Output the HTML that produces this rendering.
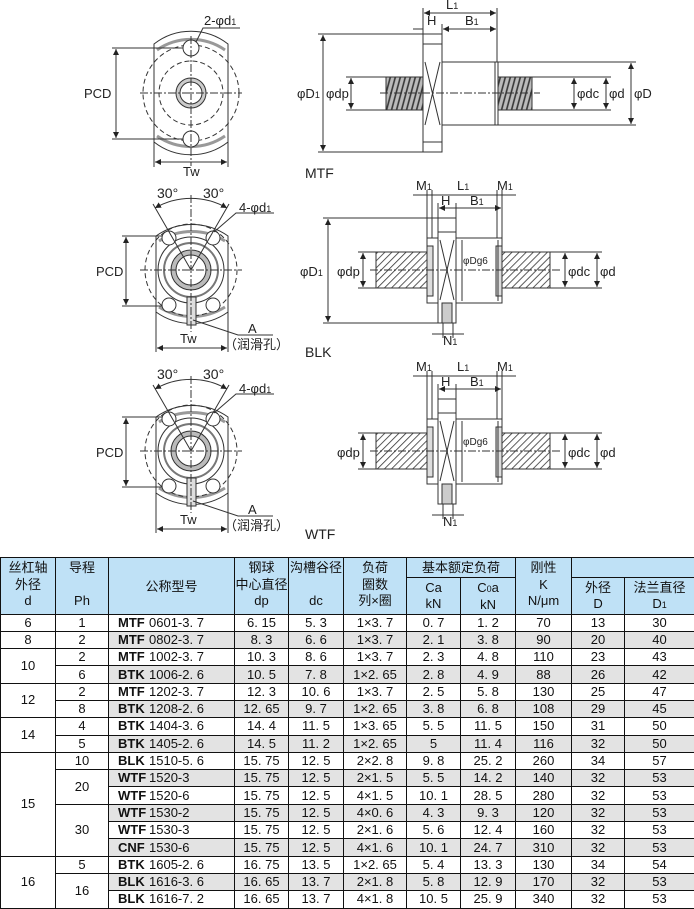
<!DOCTYPE html>
<html><head><meta charset="utf-8">
<style>
html,body{margin:0;padding:0;background:#fff;}
body{width:694px;height:907px;position:relative;overflow:hidden;font-family:"Liberation Sans","Noto Sans CJK SC",sans-serif;}
svg{position:absolute;left:0;top:0;}
svg text{font-family:"Liberation Sans","Noto Sans CJK SC",sans-serif;fill:#222;}
table{position:absolute;left:0;top:557px;border-collapse:collapse;table-layout:fixed;width:694px;}
td{border:1px solid #111;padding:0;text-align:center;font-size:13px;color:#111;overflow:hidden;white-space:nowrap;}
thead td{background:#bfe1f6;font-size:13px;line-height:16.5px;vertical-align:top;padding-top:2px;}
tbody td{height:16.3px;line-height:16px;}
tbody tr:nth-child(even) td.g{background:#e3e3e3;}
td.m{text-align:left;padding-left:9px;}
td.m b{font-weight:bold;display:inline-block;width:31px;}
</style></head><body>
<svg width="694" height="557" viewBox="0 0 694 557">
<defs>
<pattern id="h" width="5" height="5" patternUnits="userSpaceOnUse" patternTransform="rotate(45)"><rect width="5" height="5" fill="#fff"/><line x1="0" y1="0" x2="0" y2="5" stroke="#333" stroke-width="1.6"/></pattern>
<pattern id="c" width="5" height="40" patternUnits="userSpaceOnUse" patternTransform="skewX(-15)"><rect width="5" height="40" fill="#bbb"/><line x1="1" y1="0" x2="1" y2="40" stroke="#333" stroke-width="1.6"/></pattern>
<marker id="a" viewBox="0 0 6 6" refX="6" refY="3" markerWidth="6" markerHeight="6" orient="auto-start-reverse"><path d="M0,0L6,3L0,6z" fill="#222"/></marker>
</defs>
<g stroke="#333" fill="none" stroke-width="1">
<path d="M154,44 A60,60 0 0 1 228,44 L228,142 A60,60 0 0 1 154,142 Z" fill="#fff"/>
<path d="M157,50 A60,60 0 0 1 225,50" stroke="#999" stroke-width="3"/>
<path d="M157,136 A60,60 0 0 0 225,136" stroke="#999" stroke-width="3"/>
<circle cx="191" cy="93" r="48" stroke-dasharray="5,3"/>
<circle cx="191" cy="93" r="32" stroke-dasharray="5,3"/>
<circle cx="191" cy="93" r="15" fill="#ccc"/>
<circle cx="191" cy="93" r="11" fill="#fff"/>
<circle cx="191" cy="48" r="8" fill="#fff"/>
<circle cx="191" cy="139" r="8" fill="#fff"/>
<line x1="140" y1="93" x2="242" y2="93" stroke-dasharray="8,2,2,2"/>
<line x1="191" y1="36" x2="191" y2="166" stroke-dasharray="8,2,2,2"/>
<line x1="112" y1="48" x2="183" y2="48"/><line x1="112" y1="139" x2="183" y2="139"/>
<line x1="116" y1="49" x2="116" y2="138" marker-start="url(#a)" marker-end="url(#a)"/>
<line x1="154" y1="142" x2="154" y2="167"/><line x1="228" y1="142" x2="228" y2="167"/>
<line x1="155" y1="162" x2="227" y2="162" marker-start="url(#a)" marker-end="url(#a)"/>
<polyline points="196,42 203,28 240,28"/>
<rect x="386" y="77" width="37" height="33" fill="url(#c)"/>
<rect x="498" y="77" width="34" height="33" fill="url(#c)"/>
<rect x="423" y="34" width="19" height="118" fill="#fff"/>
<line x1="423" y1="44" x2="442" y2="44"/><line x1="423" y1="142" x2="442" y2="142"/>
<polyline points="425,62 440,125"/><polyline points="440,62 425,125"/>
<rect x="442" y="62" width="53" height="63" fill="#fff"/>
<rect x="495" y="62" width="3" height="63" fill="#fff"/>
<line x1="380" y1="93" x2="540" y2="93" stroke-dasharray="8,2,2,2"/>
<line x1="318" y1="34" x2="423" y2="34"/><line x1="318" y1="152" x2="423" y2="152"/>
<line x1="323" y1="35" x2="323" y2="151" marker-start="url(#a)" marker-end="url(#a)"/>
<line x1="346" y1="77" x2="386" y2="77"/><line x1="346" y1="110" x2="386" y2="110"/>
<line x1="351" y1="78" x2="351" y2="109" marker-start="url(#a)" marker-end="url(#a)"/>
<line x1="532" y1="77" x2="611" y2="77"/><line x1="532" y1="110" x2="611" y2="110"/>
<line x1="574" y1="78" x2="574" y2="109" marker-start="url(#a)" marker-end="url(#a)"/>
<line x1="606" y1="78" x2="606" y2="109" marker-start="url(#a)" marker-end="url(#a)"/>
<line x1="498" y1="62" x2="636" y2="62"/><line x1="498" y1="125" x2="636" y2="125"/>
<line x1="631" y1="63" x2="631" y2="124" marker-start="url(#a)" marker-end="url(#a)"/>
<line x1="423" y1="8" x2="423" y2="34"/><line x1="497" y1="8" x2="497" y2="62"/>
<line x1="442" y1="24" x2="442" y2="34"/>
<line x1="424" y1="13" x2="496" y2="13" marker-start="url(#a)" marker-end="url(#a)"/>
<line x1="413" y1="29" x2="423" y2="29"/><line x1="443" y1="29" x2="496" y2="29" marker-start="url(#a)" marker-end="url(#a)"/>

<g id="fr">
<path d="M156,236 A62,62 0 0 1 228,236 L228,312 A62,62 0 0 1 156,312 Z" fill="#fff"/>
<path d="M159,241 A62,62 0 0 1 225,241" stroke="#999" stroke-width="3"/>
<path d="M159,307 A62,62 0 0 0 225,307" stroke="#999" stroke-width="3"/>
<circle cx="191" cy="270" r="46" stroke-dasharray="5,3"/>
<circle cx="191" cy="270" r="33"/>
<circle cx="191" cy="270" r="27" stroke="#777" stroke-width="2"/>
<circle cx="191" cy="270" r="20" fill="#bbb"/>
<circle cx="191" cy="270" r="15" fill="#fff"/>
<circle cx="169" cy="238" r="7" fill="#fff"/><circle cx="213" cy="238" r="7" fill="#fff"/>
<circle cx="169" cy="305" r="7" fill="#fff"/><circle cx="213" cy="305" r="7" fill="#fff"/>
<rect x="187" y="297" width="9" height="28" fill="#ddd"/>
<line x1="140" y1="270" x2="242" y2="270" stroke-dasharray="8,2,2,2"/>
<line x1="191" y1="195" x2="191" y2="332" stroke-dasharray="8,2,2,2"/>
<line x1="191" y1="270" x2="153" y2="204"/><line x1="191" y1="270" x2="229" y2="204"/>
<path d="M155,208 A72,72 0 0 1 227,208" marker-start="url(#a)" marker-end="url(#a)"/>
<line x1="122" y1="236" x2="162" y2="236"/><line x1="122" y1="306" x2="162" y2="306"/>
<line x1="126" y1="237" x2="126" y2="305" marker-start="url(#a)" marker-end="url(#a)"/>
<line x1="156" y1="312" x2="156" y2="352"/><line x1="228" y1="312" x2="228" y2="352"/>
<line x1="157" y1="348" x2="227" y2="348" marker-start="url(#a)" marker-end="url(#a)"/>
<polyline points="214,232 236,213 274,213"/>
<polyline points="193,320 238,335 273,335"/>
</g>
<use href="#fr" y="181"/>
<g id="sd">
<rect x="376" y="252" width="51" height="36" fill="url(#h)"/>
<rect x="502" y="252" width="48" height="36" fill="url(#h)"/>
<rect x="427" y="238" width="75" height="65" fill="#fff"/>
<rect x="427" y="246" width="6" height="50" fill="#ddd"/>
<rect x="496" y="246" width="6" height="50" fill="#ddd"/>
<line x1="462" y1="240" x2="462" y2="301"/><line x1="498" y1="240" x2="498" y2="301"/>
<rect x="438" y="218" width="18" height="105" fill="#fff"/>
<line x1="438" y1="232" x2="456" y2="232"/>
<polyline points="440,240 454,300"/><polyline points="454,240 440,300"/>
<rect x="442" y="303" width="10" height="20" fill="#ccc"/>
<line x1="370" y1="270" x2="560" y2="270" stroke-dasharray="8,2,2,2"/>
<line x1="358" y1="252" x2="376" y2="252"/><line x1="358" y1="288" x2="376" y2="288"/>
<line x1="363" y1="253" x2="363" y2="287" marker-start="url(#a)" marker-end="url(#a)"/>
<line x1="550" y1="252" x2="602" y2="252"/><line x1="550" y1="288" x2="602" y2="288"/>
<line x1="565" y1="253" x2="565" y2="287" marker-start="url(#a)" marker-end="url(#a)"/>
<line x1="597" y1="253" x2="597" y2="287" marker-start="url(#a)" marker-end="url(#a)"/>
<line x1="427" y1="190" x2="427" y2="238"/><line x1="432" y1="190" x2="432" y2="238"/>
<line x1="497" y1="190" x2="497" y2="238"/><line x1="502" y1="190" x2="502" y2="238"/>
<line x1="413" y1="195" x2="516" y2="195"/>
<line x1="438" y1="203" x2="438" y2="218"/><line x1="456" y1="203" x2="456" y2="218"/>
<line x1="439" y1="208" x2="501" y2="208" marker-start="url(#a)" marker-end="url(#a)"/>
<line x1="443" y1="323" x2="443" y2="338"/><line x1="453" y1="323" x2="453" y2="338"/>
<line x1="432" y1="334" x2="464" y2="334"/>
</g>
<use href="#sd" y="181"/>
<line x1="323" y1="218" x2="438" y2="218"/><line x1="323" y1="323" x2="438" y2="323"/>
<line x1="328" y1="219" x2="328" y2="322" marker-start="url(#a)" marker-end="url(#a)"/>
</g>
<g font-size="13">
<text x="84" y="98">PCD</text><text x="183" y="176">Tw</text>
<text x="204" y="25">2-φd<tspan font-size="9">1</tspan></text>
<text x="297" y="98">φD<tspan font-size="9">1</tspan></text>
<text x="326" y="98">φdp</text>
<text x="577" y="98">φdc</text><text x="609" y="98">φd</text><text x="634" y="98">φD</text>
<text x="446" y="9">L<tspan font-size="9">1</tspan></text>
<text x="427" y="25">H</text><text x="465" y="25">B<tspan font-size="9">1</tspan></text>
<text x="305" y="178" font-size="14">MTF</text>

<text x="96" y="276">PCD</text><text x="180" y="343">Tw</text>
<text x="157" y="198" font-size="14">30°</text><text x="203" y="198" font-size="14">30°</text>
<text x="239" y="212">4-φd<tspan font-size="9">1</tspan></text>
<text x="248" y="333">A</text><text x="224" y="349">（润滑孔）</text>
<text x="305" y="357" font-size="14">BLK</text>
<text x="300" y="276">φD<tspan font-size="9">1</tspan></text>
<text x="337" y="276">φdp</text>
<text x="568" y="276">φdc</text><text x="600" y="276">φd</text>
<text x="416" y="190">M<tspan font-size="9">1</tspan></text><text x="457" y="190">L<tspan font-size="9">1</tspan></text><text x="497" y="190">M<tspan font-size="9">1</tspan></text>
<text x="441" y="205">H</text><text x="470" y="205">B<tspan font-size="9">1</tspan></text>
<text x="463" y="264" font-size="10">φDg6</text>
<text x="443" y="345">N<tspan font-size="9">1</tspan></text>

<text x="96" y="457">PCD</text><text x="180" y="524">Tw</text>
<text x="157" y="379" font-size="14">30°</text><text x="203" y="379" font-size="14">30°</text>
<text x="239" y="393">4-φd<tspan font-size="9">1</tspan></text>
<text x="248" y="514">A</text><text x="224" y="530">（润滑孔）</text>
<text x="305" y="539" font-size="14">WTF</text>
<text x="337" y="457">φdp</text>
<text x="568" y="457">φdc</text><text x="600" y="457">φd</text>
<text x="416" y="371">M<tspan font-size="9">1</tspan></text><text x="457" y="371">L<tspan font-size="9">1</tspan></text><text x="497" y="371">M<tspan font-size="9">1</tspan></text>
<text x="441" y="386">H</text><text x="470" y="386">B<tspan font-size="9">1</tspan></text>
<text x="463" y="445" font-size="10">φDg6</text>
<text x="443" y="526">N<tspan font-size="9">1</tspan></text>
</g>
</svg>

<table>
<colgroup><col style="width:55px"><col style="width:53px"><col style="width:126px"><col style="width:54px"><col style="width:55px"><col style="width:63px"><col style="width:54px"><col style="width:55px"><col style="width:56px"><col style="width:53px"><col style="width:70px"></colgroup>
<thead>
<tr style="height:18px">
<td rowspan="2">丝杠轴<br>外径<br>d</td>
<td rowspan="2">导程<br>&nbsp;<br>Ph</td>
<td rowspan="2" style="vertical-align:middle">公称型号</td>
<td rowspan="2">钢球<br>中心直径<br>dp</td>
<td rowspan="2">沟槽谷径<br>&nbsp;<br>dc</td>
<td rowspan="2">负荷<br>圈数<br>列×圈</td>
<td colspan="2">基本额定负荷</td>
<td rowspan="2">刚性<br>K<br>N/μm</td>
<td colspan="2"></td>
</tr>
<tr style="height:36px">
<td style="padding-top:2px">Ca<br>kN</td><td style="padding-top:2px">C<span style="font-size:9px">0</span>a<br>kN</td>
<td style="padding-top:2px">外径<br>D</td><td style="padding-top:2px">法兰直径<br>D<span style="font-size:9px">1</span></td>
</tr>
</thead>
<tbody>
<tr><td>6</td><td>1</td><td class="m g"><b>MTF</b>0601-3. 7</td><td class="g">6. 15</td><td class="g">5. 3</td><td class="g">1×3. 7</td><td class="g">0. 7</td><td class="g">1. 2</td><td class="g">70</td><td class="g">13</td><td class="g">30</td></tr>
<tr><td>8</td><td>2</td><td class="m g"><b>MTF</b>0802-3. 7</td><td class="g">8. 3</td><td class="g">6. 6</td><td class="g">1×3. 7</td><td class="g">2. 1</td><td class="g">3. 8</td><td class="g">90</td><td class="g">20</td><td class="g">40</td></tr>
<tr><td rowspan="2">10</td><td>2</td><td class="m g"><b>MTF</b>1002-3. 7</td><td class="g">10. 3</td><td class="g">8. 6</td><td class="g">1×3. 7</td><td class="g">2. 3</td><td class="g">4. 8</td><td class="g">110</td><td class="g">23</td><td class="g">43</td></tr>
<tr><td>6</td><td class="m g"><b>BTK</b>1006-2. 6</td><td class="g">10. 5</td><td class="g">7. 8</td><td class="g">1×2. 65</td><td class="g">2. 8</td><td class="g">4. 9</td><td class="g">88</td><td class="g">26</td><td class="g">42</td></tr>
<tr><td rowspan="2">12</td><td>2</td><td class="m g"><b>MTF</b>1202-3. 7</td><td class="g">12. 3</td><td class="g">10. 6</td><td class="g">1×3. 7</td><td class="g">2. 5</td><td class="g">5. 8</td><td class="g">130</td><td class="g">25</td><td class="g">47</td></tr>
<tr><td>8</td><td class="m g"><b>BTK</b>1208-2. 6</td><td class="g">12. 65</td><td class="g">9. 7</td><td class="g">1×2. 65</td><td class="g">3. 8</td><td class="g">6. 8</td><td class="g">108</td><td class="g">29</td><td class="g">45</td></tr>
<tr><td rowspan="2">14</td><td>4</td><td class="m g"><b>BTK</b>1404-3. 6</td><td class="g">14. 4</td><td class="g">11. 5</td><td class="g">1×3. 65</td><td class="g">5. 5</td><td class="g">11. 5</td><td class="g">150</td><td class="g">31</td><td class="g">50</td></tr>
<tr><td>5</td><td class="m g"><b>BTK</b>1405-2. 6</td><td class="g">14. 5</td><td class="g">11. 2</td><td class="g">1×2. 65</td><td class="g">5</td><td class="g">11. 4</td><td class="g">116</td><td class="g">32</td><td class="g">50</td></tr>
<tr><td rowspan="6">15</td><td>10</td><td class="m g"><b>BLK</b>1510-5. 6</td><td class="g">15. 75</td><td class="g">12. 5</td><td class="g">2×2. 8</td><td class="g">9. 8</td><td class="g">25. 2</td><td class="g">260</td><td class="g">34</td><td class="g">57</td></tr>
<tr><td rowspan="2">20</td><td class="m g"><b>WTF</b>1520-3</td><td class="g">15. 75</td><td class="g">12. 5</td><td class="g">2×1. 5</td><td class="g">5. 5</td><td class="g">14. 2</td><td class="g">140</td><td class="g">32</td><td class="g">53</td></tr>
<tr><td class="m g"><b>WTF</b>1520-6</td><td class="g">15. 75</td><td class="g">12. 5</td><td class="g">4×1. 5</td><td class="g">10. 1</td><td class="g">28. 5</td><td class="g">280</td><td class="g">32</td><td class="g">53</td></tr>
<tr><td rowspan="3">30</td><td class="m g"><b>WTF</b>1530-2</td><td class="g">15. 75</td><td class="g">12. 5</td><td class="g">4×0. 6</td><td class="g">4. 3</td><td class="g">9. 3</td><td class="g">120</td><td class="g">32</td><td class="g">53</td></tr>
<tr><td class="m g"><b>WTF</b>1530-3</td><td class="g">15. 75</td><td class="g">12. 5</td><td class="g">2×1. 6</td><td class="g">5. 6</td><td class="g">12. 4</td><td class="g">160</td><td class="g">32</td><td class="g">53</td></tr>
<tr><td class="m g"><b>CNF</b>1530-6</td><td class="g">15. 75</td><td class="g">12. 5</td><td class="g">4×1. 6</td><td class="g">10. 1</td><td class="g">24. 7</td><td class="g">310</td><td class="g">32</td><td class="g">53</td></tr>
<tr><td rowspan="3">16</td><td>5</td><td class="m g"><b>BTK</b>1605-2. 6</td><td class="g">16. 75</td><td class="g">13. 5</td><td class="g">1×2. 65</td><td class="g">5. 4</td><td class="g">13. 3</td><td class="g">130</td><td class="g">34</td><td class="g">54</td></tr>
<tr><td rowspan="2">16</td><td class="m g"><b>BLK</b>1616-3. 6</td><td class="g">16. 65</td><td class="g">13. 7</td><td class="g">2×1. 8</td><td class="g">5. 8</td><td class="g">12. 9</td><td class="g">170</td><td class="g">32</td><td class="g">53</td></tr>
<tr><td class="m g"><b>BLK</b>1616-7. 2</td><td class="g">16. 65</td><td class="g">13. 7</td><td class="g">4×1. 8</td><td class="g">10. 5</td><td class="g">25. 9</td><td class="g">340</td><td class="g">32</td><td class="g">53</td></tr>
</tbody>
</table>
</body></html>
